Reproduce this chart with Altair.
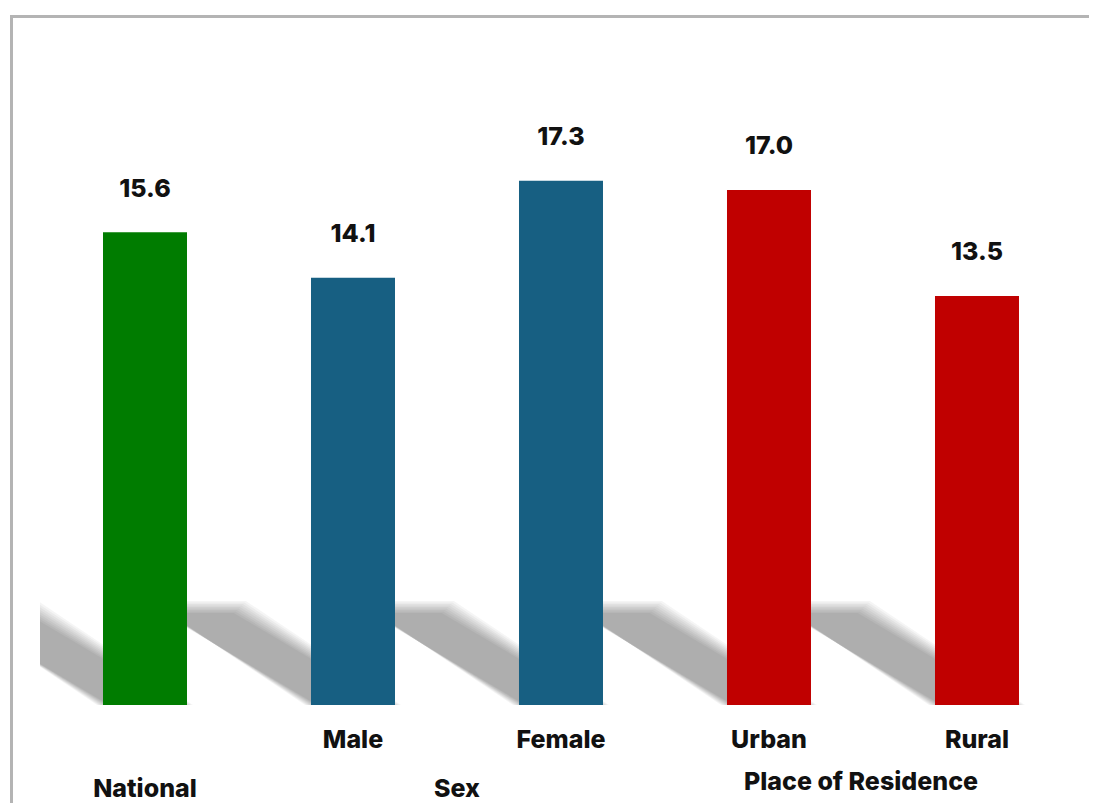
import altair as alt
import pandas as pd

# ---- data ----
categories = ["National", "Male", "Female", "Urban", "Rural"]
values = [15.6, 14.1, 17.3, 17.0, 13.5]
bar_groups = ["National", "Sex", "Sex", "Place of Residence", "Place of Residence"]
tick_labels = ["", "Male", "Female", "Urban", "Rural"]
group_names = ["National", "Sex", "Place of Residence"]
group_colors = ["#007C00", "#175F82", "#C00000"]

# ---- layout constants (pixels) ----
PLOT_W, PLOT_H = 1049, 606
X_DOMAIN = [-0.5048, 4.5385]
Y_DOMAIN = [0, 20]
XPX = PLOT_W / (X_DOMAIN[1] - X_DOMAIN[0])
YPX = PLOT_H / (Y_DOMAIN[1] - Y_DOMAIN[0])
BAR_W = 84
FONT = "Inter"

df = pd.DataFrame({
    "idx": list(range(len(categories))),
    "category": categories,
    "value": values,
    "group": bar_groups,
    "tick": tick_labels,
})

gdf = pd.DataFrame({
    "group": group_names,
    "center": [df[df.group == g].idx.mean() for g in group_names],
})

# shadow parallelograms (decoration derived from each bar's position)
HW = BAR_W / 2 / XPX
RISE = 98 / YPX
SHIFT = 155 / XPX
expansions = [-6, -4.5, -3, -1.5, 0, 1.5, 3, 4.5, 6]
rows = []
for i in df.idx:
    for k, e in enumerate(expansions):
        for t in (0, 1):
            hw = HW + e / XPX
            rows.append({
                "key": f"{i}-{k}",
                "y": t * (RISE + e / YPX),
                "x": i - hw - t * SHIFT,
                "x2": i + hw - t * SHIFT,
            })
sdf = pd.DataFrame(rows)

xs = alt.Scale(domain=X_DOMAIN, nice=False, zero=False, padding=0)
ys = alt.Scale(domain=Y_DOMAIN, nice=False, zero=True, padding=0)

shadow = alt.Chart(sdf).mark_area(orient="horizontal", clip=True, color="#000000", opacity=0.04).encode(
    y=alt.Y("y:Q", scale=ys, axis=None),
    x=alt.X("x:Q", scale=xs, axis=None),
    x2="x2:Q",
    detail="key:N",
)

bars = alt.Chart(df).mark_bar(size=BAR_W).encode(
    x=alt.X("idx:Q", scale=xs, axis=None),
    y=alt.Y("value:Q", scale=ys, axis=None),
    color=alt.Color("group:N", scale=alt.Scale(domain=group_names, range=group_colors), legend=None),
)

txt = dict(font=FONT, fontSize=25, fontWeight=800, color="#111111", baseline="alphabetic", align="center")

value_labels = alt.Chart(df).mark_text(dy=-35.5, **txt).encode(
    x=alt.X("idx:Q", scale=xs),
    y=alt.Y("value:Q", scale=ys),
    text=alt.Text("value:Q", format=".1f"),
)

tick_text = alt.Chart(df).mark_text(**txt).encode(
    x=alt.X("idx:Q", scale=xs),
    y=alt.value(649),
    text="tick:N",
)

group_low = alt.Chart(gdf).transform_filter(
    alt.datum.group != "Place of Residence"
).mark_text(**txt).encode(
    x=alt.X("center:Q", scale=xs),
    y=alt.value(698),
    text="group:N",
)

group_high = alt.Chart(gdf).transform_filter(
    alt.datum.group == "Place of Residence"
).mark_text(dx=-12, **txt).encode(
    x=alt.X("center:Q", scale=xs),
    y=alt.value(691),
    text="group:N",
)

one = pd.DataFrame({"a": [0]})
frame_left = alt.Chart(one).mark_rule(color="#b4b4b4", strokeWidth=3).encode(
    x=alt.value(-28.5), y=alt.value(-84), y2=alt.value(720)
)
frame_top = alt.Chart(one).mark_rule(color="#b4b4b4", strokeWidth=3).encode(
    x=alt.value(-30), x2=alt.value(1060), y=alt.value(-82.5)
)

chart = alt.layer(
    shadow, bars, value_labels, tick_text, group_low, group_high, frame_left, frame_top
).properties(
    width=PLOT_W,
    height=PLOT_H,
    autosize="none",
    padding={"left": 32, "top": 91, "right": 0, "bottom": 98},
    background="white",
).configure_view(stroke=None)

chart.save("out.html", embed_options={"renderer": "svg", "actions": False})
